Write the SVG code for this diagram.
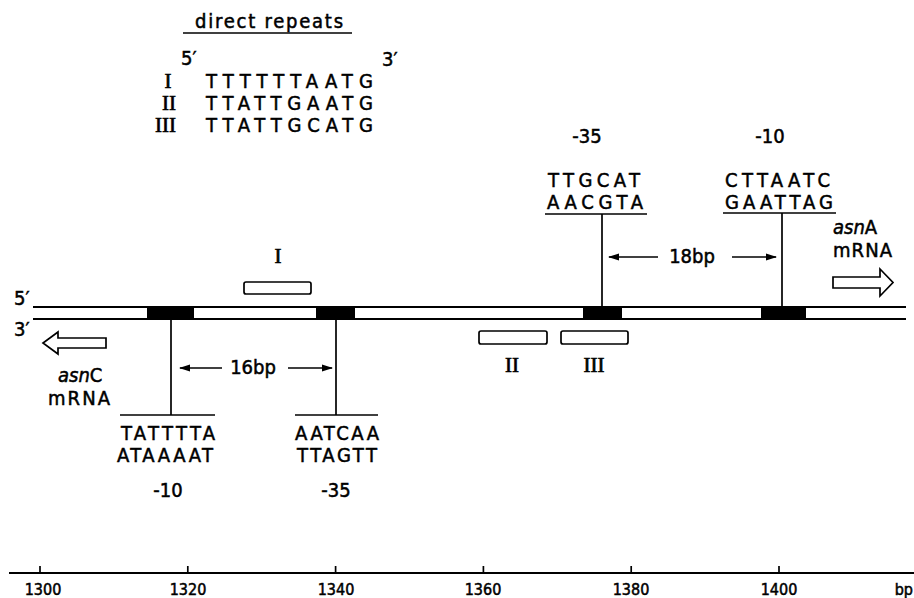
<svg xmlns="http://www.w3.org/2000/svg" width="914" height="598" viewBox="0 0 914 598">
<defs>
<style>
.t{font-family:"DejaVu Sans Condensed","DejaVu Sans","Liberation Sans",sans-serif;font-stretch:condensed;fill:#000;stroke:#000;stroke-width:0.5}
.s{font-size:20px}
.r{font-family:"Liberation Serif","DejaVu Serif",serif;font-size:21px;fill:#000;stroke:#000;stroke-width:0.7}
.ln{stroke:#000;stroke-width:1.7;fill:none}
.dna{stroke:#000;stroke-width:2.2;fill:none}
.box{fill:#fff;stroke:#000;stroke-width:1.7}
.blk{fill:#000}
.ax{font-size:16px}
</style>
<marker id="ah" markerWidth="11" markerHeight="8" refX="10" refY="4" orient="auto" markerUnits="userSpaceOnUse">
<path d="M0,0.5 L11,4 L0,7.5 Z" fill="#000"/>
</marker>
</defs>
<rect width="914" height="598" fill="#fff"/>

<g id="direct-repeats">
<text class="t" x="195" y="28" font-size="20" textLength="148" lengthAdjust="spacing">direct repeats</text>
<line class="ln" x1="183" y1="33" x2="352" y2="33"/>
<text class="t s" x="181" y="65">5′</text>
<text class="t s" x="382" y="66">3′</text>
<text class="r" x="168" y="88" text-anchor="middle">I</text>
<text class="r" x="176" y="110" text-anchor="end">II</text>
<text class="r" x="176" y="132" text-anchor="end">III</text>
<text class="t s" x="206" y="88" textLength="167" lengthAdjust="spacing">TTTTTTAATG</text>
<text class="t s" x="206" y="110" textLength="167" lengthAdjust="spacing">TTATTGAATG</text>
<text class="t s" x="206" y="132" textLength="167" lengthAdjust="spacing">TTATTGCATG</text>
</g>

<g id="dna">
<line class="dna" x1="33" y1="307" x2="906" y2="307"/>
<line class="dna" x1="33" y1="319" x2="906" y2="319"/>
<text class="t s" x="14" y="305">5′</text>
<text class="t s" x="14" y="336">3′</text>
</g>

<g id="promoter-boxes">
<rect class="blk" x="147" y="307" width="47" height="12"/>
<rect class="blk" x="316" y="307" width="39" height="12"/>
<rect class="blk" x="583" y="307" width="39" height="12"/>
<rect class="blk" x="761" y="307" width="45" height="12"/>
</g>

<g id="repeat-I">
<rect class="box" x="244" y="282" width="67" height="12" rx="2"/>
<text class="r" x="278" y="263" text-anchor="middle">I</text>
</g>
<g id="repeat-II">
<rect class="box" x="479" y="331" width="68" height="13" rx="2"/>
<text class="r" x="512" y="372" text-anchor="middle">II</text>
</g>
<g id="repeat-III">
<rect class="box" x="561" y="331" width="67" height="13" rx="2"/>
<text class="r" x="594" y="372" text-anchor="middle">III</text>
</g>

<g id="asnA-minus35">
<text class="t s" x="587" y="143" text-anchor="middle">-35</text>
<text class="t s" x="548" y="187" textLength="92" lengthAdjust="spacing">TTGCAT</text>
<text class="t s" x="547" y="209" textLength="96" lengthAdjust="spacing">AACGTA</text>
<line class="ln" x1="545" y1="214" x2="647" y2="214"/>
</g>
<g id="asnA-minus10">
<text class="t s" x="770" y="143" text-anchor="middle">-10</text>
<text class="t s" x="725" y="187" textLength="105" lengthAdjust="spacing">CTTAATC</text>
<text class="t s" x="725" y="209" textLength="108" lengthAdjust="spacing">GAATTAG</text>
<line class="ln" x1="723" y1="213" x2="836" y2="213"/>
</g>
<g id="asnA-mRNA">
<text class="t s" x="833" y="234"><tspan font-style="italic">asn</tspan>A</text>
<text class="t s" x="833" y="257" textLength="59" lengthAdjust="spacing">mRNA</text>
<path class="ln" d="M833,277 L880,277 L880,269 L893,282.5 L880,296 L880,288 L833,288 Z" fill="#fff"/>
</g>

<g id="asnC-minus10">
<line class="ln" x1="120" y1="415" x2="215" y2="415"/>
<text class="t s" x="121" y="440" textLength="94" lengthAdjust="spacing">TATTTTA</text>
<text class="t s" x="117" y="462" textLength="96" lengthAdjust="spacing">ATAAAAT</text>
<text class="t s" x="168" y="497" text-anchor="middle">-10</text>
</g>
<g id="asnC-minus35">
<line class="ln" x1="295" y1="415" x2="378" y2="415"/>
<text class="t s" x="295" y="440" textLength="84" lengthAdjust="spacing">AATCAA</text>
<text class="t s" x="297" y="462" textLength="80" lengthAdjust="spacing">TTAGTT</text>
<text class="t s" x="336" y="497" text-anchor="middle">-35</text>
</g>
<g id="asnC-mRNA">
<path class="ln" d="M106,338 L58,338 L58,332 L43,343 L58,354 L58,348 L106,348 Z" fill="#fff"/>
<text class="t s" x="58" y="382"><tspan font-style="italic">asn</tspan>C</text>
<text class="t s" x="48" y="405" textLength="62" lengthAdjust="spacing">mRNA</text>
</g>

<g id="connectors">
<line class="ln" x1="602" y1="214" x2="602" y2="307"/>
<line class="ln" x1="782" y1="213" x2="782" y2="307"/>
<line class="ln" x1="171" y1="319" x2="171" y2="415"/>
<line class="ln" x1="336" y1="319" x2="336" y2="415"/>
<line class="ln" x1="658" y1="257" x2="609" y2="257" marker-end="url(#ah)"/>
<line class="ln" x1="732" y1="257" x2="776" y2="257" marker-end="url(#ah)"/>
<line class="ln" x1="222" y1="368" x2="180" y2="368" marker-end="url(#ah)"/>
<line class="ln" x1="288" y1="368" x2="332" y2="368" marker-end="url(#ah)"/>
</g>
<g id="spacing-labels">
<text class="t s" x="692" y="263" text-anchor="middle">18bp</text>
<text class="t s" x="253" y="374" text-anchor="middle">16bp</text>
</g>

<g id="axis">
<line class="dna" x1="9" y1="573" x2="914" y2="573"/>
<g class="ln">
<line x1="40" y1="566" x2="40" y2="573"/>
<line x1="187.8" y1="566" x2="187.8" y2="573"/>
<line x1="335.6" y1="566" x2="335.6" y2="573"/>
<line x1="483.4" y1="566" x2="483.4" y2="573"/>
<line x1="631.2" y1="566" x2="631.2" y2="573"/>
<line x1="779" y1="566" x2="779" y2="573"/>
</g>
<g class="t ax" text-anchor="middle">
<text x="43" y="595">1300</text>
<text x="188" y="595">1320</text>
<text x="336" y="595">1340</text>
<text x="483" y="595">1360</text>
<text x="631" y="595">1380</text>
<text x="779" y="595">1400</text>
<text x="913" y="595" text-anchor="end">bp</text>
</g>
</g>
</svg>
